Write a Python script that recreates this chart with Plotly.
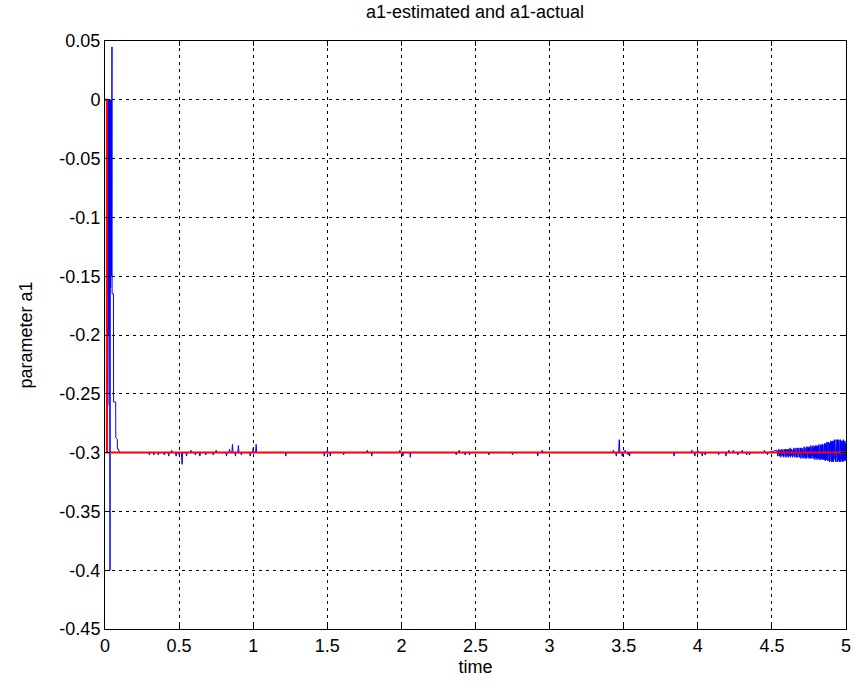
import numpy as np
import plotly.graph_objects as go

# ---- data ----
# initial transient of the estimate
t_start = [0.0, 0.012, 0.013, 0.014, 0.015, 0.016, 0.017, 0.018, 0.019, 0.020, 0.021,
           0.022, 0.023, 0.024, 0.025, 0.026, 0.027, 0.028, 0.029, 0.030, 0.031,
           0.032, 0.033, 0.034, 0.035, 0.036, 0.037, 0.038, 0.039, 0.040, 0.041,
           0.042, 0.043, 0.044, 0.045, 0.046, 0.047, 0.048, 0.057, 0.058, 0.072,
           0.073, 0.083, 0.084, 0.090, 0.10]
a_start = [0.0, 0.0, -0.30, 0.0, -0.29, -0.01, -0.28, 0.0, -0.26, 0.0, -0.24,
           -0.01, -0.22, 0.0, -0.20, 0.0, -0.18, -0.01, -0.19, 0.0, -0.17,
           0.0, -0.18, -0.40, 0.0, -0.16, 0.0, -0.16, -0.01, -0.15, 0.0,
           -0.16, 0.0, -0.15, 0.0, -0.16, 0.045, -0.165, -0.165, -0.257, -0.257,
           -0.287, -0.289, -0.297, -0.297, -0.30]

# isolated small deviations of the estimate around the steady value
blip_t = [0.30, 0.33, 0.36, 0.40, 0.43, 0.45, 0.48, 0.50, 0.52, 0.55, 0.58, 0.61, 0.64,
          0.68, 0.73, 0.75, 0.82, 0.84, 0.86, 0.88, 0.90, 0.92, 0.98, 1.00, 1.02, 1.22,
          1.48, 1.50, 1.52, 1.61, 1.77, 1.80, 1.99, 2.01, 2.06, 2.37, 2.39, 2.43, 2.46,
          2.59, 2.75, 2.92, 2.95, 3.43, 3.45, 3.47, 3.49, 3.51, 3.53, 3.54, 3.84, 3.96,
          3.98, 4.00, 4.03, 4.05, 4.14, 4.19, 4.21, 4.24, 4.27, 4.30, 4.33, 4.35, 4.45,
          4.47]
blip_a = [-0.302, -0.302, -0.302, -0.302, -0.303, -0.298, -0.303, -0.302, -0.310, -0.303,
          -0.298, -0.302, -0.303, -0.302, -0.302, -0.298, -0.303, -0.297, -0.293, -0.303,
          -0.294, -0.302, -0.303, -0.296, -0.293, -0.303, -0.303, -0.298, -0.303, -0.302,
          -0.298, -0.303, -0.298, -0.303, -0.304, -0.302, -0.298, -0.302, -0.302, -0.302,
          -0.302, -0.303, -0.298, -0.298, -0.303, -0.289, -0.303, -0.298, -0.302, -0.303,
          -0.303, -0.298, -0.303, -0.298, -0.303, -0.302, -0.302, -0.303, -0.298, -0.298,
          -0.302, -0.298, -0.302, -0.302, -0.298, -0.302]

# growing oscillation at the end (samples from t=4.5325 to t=5.0)
noise_a = [
    -0.298, -0.302, -0.299, -0.303, -0.298, -0.301, -0.297, -0.303, -0.299, -0.302,
    -0.298, -0.304, -0.299, -0.302, -0.297, -0.303, -0.298, -0.302, -0.299, -0.304,
    -0.297, -0.302, -0.298, -0.303, -0.297, -0.304, -0.298, -0.302, -0.297, -0.303,
    -0.298, -0.304, -0.297, -0.302, -0.298, -0.303, -0.296, -0.304, -0.298, -0.302,
    -0.297, -0.303, -0.298, -0.304, -0.297, -0.302, -0.296, -0.303, -0.297, -0.304,
    -0.298, -0.303, -0.296, -0.304, -0.297, -0.302, -0.296, -0.304, -0.297, -0.303,
    -0.296, -0.304, -0.297, -0.303, -0.296, -0.305, -0.297, -0.304,
    -0.296, -0.304, -0.297, -0.305, -0.296, -0.303, -0.295, -0.304, -0.296, -0.305,
    -0.297, -0.304, -0.295, -0.305, -0.296, -0.303, -0.295, -0.304, -0.296, -0.305,
    -0.295, -0.304, -0.296, -0.305, -0.294, -0.304, -0.296, -0.305, -0.295, -0.303,
    -0.294, -0.305, -0.296, -0.304, -0.295, -0.306, -0.294, -0.304, -0.295, -0.305,
    -0.294, -0.306, -0.295, -0.304, -0.294, -0.305, -0.293, -0.306, -0.295, -0.305,
    -0.294, -0.306, -0.293, -0.305, -0.294, -0.306, -0.293, -0.305, -0.294, -0.306,
    -0.293, -0.306, -0.292, -0.307, -0.293, -0.305, -0.292, -0.306, -0.291, -0.307,
    -0.292, -0.306, -0.291, -0.307, -0.292, -0.308, -0.291, -0.306, -0.290, -0.307,
    -0.291, -0.308, -0.290, -0.307, -0.291, -0.308, -0.290, -0.306, -0.289, -0.307,
    -0.290, -0.308, -0.289, -0.307, -0.290, -0.308, -0.289, -0.307, -0.290, -0.306,
    -0.289, -0.308, -0.290, -0.307, -0.289, -0.308, -0.290, -0.306, -0.291, -0.307,
    -0.290, -0.308, -0.289, -0.307, -0.291, -0.306, -0.290, -0.307, -0.292, -0.305,
]
noise_t = list(np.linspace(4.5325, 5.0, len(noise_a)))

steady_value = -0.30
# actual parameter
t_actual = [0.0, 0.013, 0.013, 5.0]
a_actual = [0.0, 0.0, -0.30, -0.30]

x_ticks = [0, 0.5, 1, 1.5, 2, 2.5, 3, 3.5, 4, 4.5, 5]
x_labels = ["0", "0.5", "1", "1.5", "2", "2.5", "3", "3.5", "4", "4.5", "5"]
y_ticks = [0.05, 0, -0.05, -0.1, -0.15, -0.2, -0.25, -0.3, -0.35, -0.4, -0.45]
y_labels = ["0.05", "0", "-0.05", "-0.1", "-0.15", "-0.2", "-0.25", "-0.3", "-0.35", "-0.4", "-0.45"]

# ---- assemble estimate series ----
t_est = list(t_start)
a_est = list(a_start)
for bt, ba in zip(blip_t, blip_a):
    t_est += [bt - 0.004, bt, bt + 0.004]
    a_est += [steady_value, ba, steady_value]
t_est += noise_t
a_est += noise_a

fig = go.Figure()
fig.add_trace(go.Scatter(x=t_est, y=a_est, mode="lines",
                         line=dict(color="#0000ff", width=1), showlegend=False))
fig.add_trace(go.Scatter(x=t_actual, y=a_actual, mode="lines",
                         line=dict(color="#ff0000", width=2), showlegend=False))

font_family = "Liberation Sans, Arial, sans-serif"
axis_common = dict(
    showline=True, linecolor="black", linewidth=1, mirror="ticks",
    ticks="inside", ticklen=5, tickcolor="black", automargin=False,
    showgrid=True, gridcolor="black", gridwidth=1, griddash="3px,4px",
    zeroline=False, tickfont=dict(family=font_family, size=18, color="black"),
)

fig.update_layout(
    width=855, height=690,
    margin=dict(l=105, r=9, t=41, b=61),
    paper_bgcolor="white", plot_bgcolor="white",
    title=dict(text="a1-estimated and a1-actual", x=0.5555, xanchor="center",
               y=1 - 12 / 690, yanchor="middle", yref="container",
               font=dict(family=font_family, size=18, color="black")),
    xaxis=dict(range=[0, 5], tickvals=x_ticks, ticktext=x_labels,
               title=dict(text="time", standoff=5,
                          font=dict(family=font_family, size=18, color="black")),
               **axis_common),
    yaxis=dict(range=[-0.45, 0.05], tickvals=y_ticks, ticktext=y_labels,
               title=dict(text="parameter a1", standoff=22,
                          font=dict(family=font_family, size=18, color="black")),
               **axis_common),
)

fig.write_html("out.html")
